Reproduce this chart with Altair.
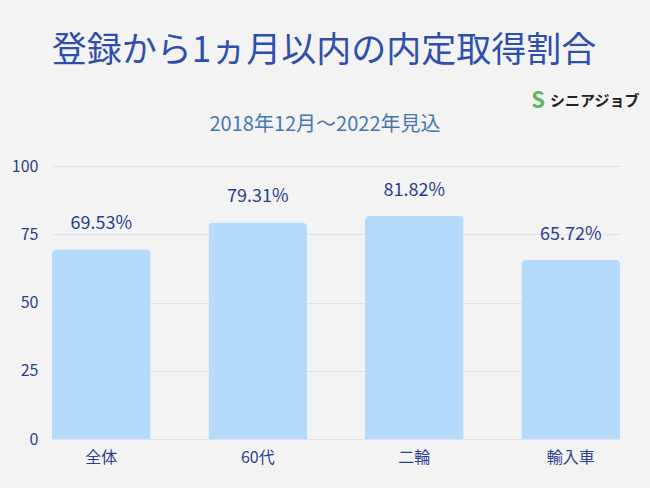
import altair as alt
import pandas as pd

categories = ["全体", "60代", "二輪", "輸入車"]
values = [69.53, 79.31, 81.82, 65.72]
labels = ["69.53%", "79.31%", "81.82%", "65.72%"]
y_ticks = [0, 25, 50, 75, 100]

title_text = "登録から1ヵ月以内の内定取得割合"
subtitle_text = "2018年12月～2022年見込"
logo_text = "シニアジョブ"

df = pd.DataFrame({"cat": categories, "val": values, "label": labels})

FONT = "Noto Sans CJK JP"
DARK = "#2b3f8f"

x_enc = alt.X("cat:N", sort=categories, title=None,
              scale=alt.Scale(paddingInner=0.37, paddingOuter=0),
              axis=alt.Axis(labelAngle=0, labelFontSize=16, labelColor=DARK,
                            labelFont=FONT, labelPadding=10, ticks=False,
                            domain=False, grid=False))
y_enc = alt.Y("val:Q", title=None,
              scale=alt.Scale(domain=[0, 100], nice=False),
              axis=alt.Axis(values=y_ticks, labelFontSize=16, labelColor=DARK,
                            labelFont=FONT, labelPadding=14, ticks=False,
                            domain=False, gridColor="#dfe2ea", gridWidth=1))

bars = alt.Chart(df).mark_bar(color="#b5dbfc", cornerRadiusTopLeft=5,
                              cornerRadiusTopRight=5).encode(x=x_enc, y=y_enc)

text = alt.Chart(df).mark_text(dy=-25, fontSize=18, color=DARK, font=FONT).encode(
    x=alt.X("cat:N", sort=categories), y="val:Q", text="label:N")

title = alt.Chart(pd.DataFrame({"t": [title_text]})).mark_text(
    fontSize=35, color="#2e4fae", font=FONT, align="center", baseline="middle"
).encode(x=alt.value(272), y=alt.value(-115), text="t:N")

subtitle = alt.Chart(pd.DataFrame({"t": [subtitle_text]})).mark_text(
    fontSize=20, color="#4678b0", font=FONT, align="center", baseline="middle"
).encode(x=alt.value(273), y=alt.value(-41), text="t:N")

logo_s = alt.Chart(pd.DataFrame({"t": ["S"]})).mark_text(
    fontSize=22, color="#5cb85c", font=FONT, fontWeight="bold", align="center", baseline="middle"
).encode(x=alt.value(486), y=alt.value(-65), text="t:N")

logo = alt.Chart(pd.DataFrame({"t": [logo_text]})).mark_text(
    fontSize=15, color="#222222", font=FONT, fontWeight="bold", align="left", baseline="middle"
).encode(x=alt.value(498), y=alt.value(-65), text="t:N")

chart = alt.layer(bars, text, title, subtitle, logo_s, logo).properties(
    width=568, height=273,
    background="#f3f3f3",
    padding={"left": 52, "top": 166, "right": 30, "bottom": 49},
    autosize=alt.AutoSizeParams(type="none"),
).configure_view(stroke=None)

chart.save("out.html", embed_options={"renderer": "svg", "actions": False})
